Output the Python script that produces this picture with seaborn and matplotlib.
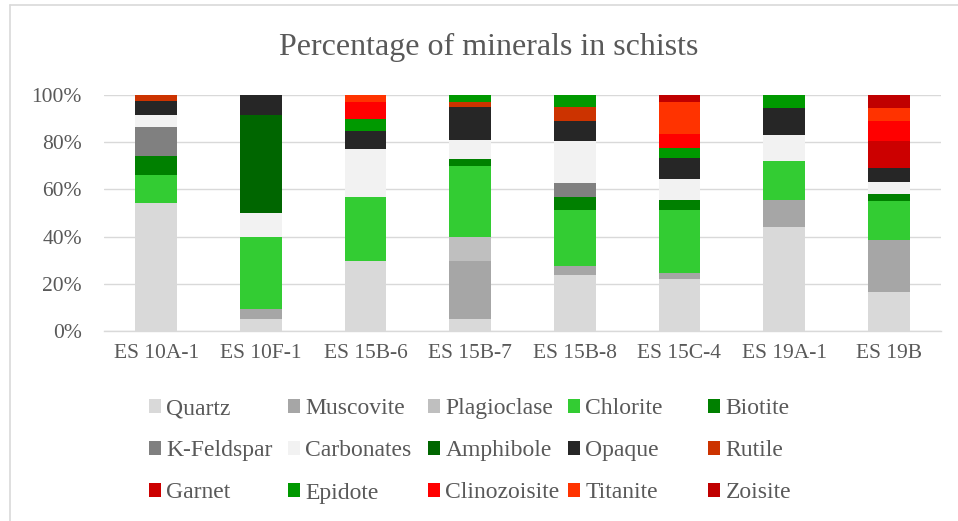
import matplotlib
matplotlib.use("Agg")
import matplotlib.pyplot as plt
from matplotlib.patches import Patch
from matplotlib.lines import Line2D
import numpy as np
import pandas as pd
import seaborn as sns

samples = ["ES 10A-1", "ES 10F-1", "ES 15B-6", "ES 15B-7",
           "ES 15B-8", "ES 15C-4", "ES 19A-1", "ES 19B"]

minerals = ["Quartz", "Muscovite", "Plagioclase", "Chlorite", "Biotite",
            "K-Feldspar", "Carbonates", "Amphibole", "Opaque", "Rutile",
            "Garnet", "Epidote", "Clinozoisite", "Titanite", "Zoisite"]

# percentage of each mineral per sample (same order as samples)
quartz       = [54.1, 5.1, 29.8, 5.1, 23.7, 22.0, 44.2, 16.4]
muscovite    = [0.0, 4.1, 0.0, 24.7, 3.7, 2.5, 11.3, 22.0]
plagioclase  = [0.0, 0.0, 0.0, 10.2, 0.0, 0.0, 0.0, 0.0]
chlorite     = [12.0, 30.8, 27.0, 29.9, 23.7, 26.7, 16.5, 16.7]
biotite      = [8.2, 0.0, 0.0, 3.0, 5.8, 4.2, 0.0, 3.1]
k_feldspar   = [12.1, 0.0, 0.0, 0.0, 5.9, 0.0, 0.0, 0.0]
carbonates   = [5.1, 10.2, 20.2, 7.9, 17.9, 8.9, 11.2, 5.1]
amphibole    = [0.0, 41.3, 0.0, 0.0, 0.0, 0.0, 0.0, 0.0]
opaque       = [5.9, 8.5, 7.8, 14.0, 8.3, 8.8, 11.2, 5.8]
rutile       = [2.6, 0.0, 0.0, 2.1, 5.9, 0.0, 0.0, 0.0]
garnet       = [0.0, 0.0, 0.0, 0.0, 0.0, 0.0, 0.0, 11.2]
epidote      = [0.0, 0.0, 5.1, 3.1, 5.1, 4.5, 5.6, 0.0]
clinozoisite = [0.0, 0.0, 7.0, 0.0, 0.0, 5.9, 0.0, 8.5]
titanite     = [0.0, 0.0, 3.1, 0.0, 0.0, 13.6, 0.0, 5.6]
zoisite      = [0.0, 0.0, 0.0, 0.0, 0.0, 2.9, 0.0, 5.6]

colors = ["#D9D9D9", "#A6A6A6", "#BFBFBF", "#33CC33", "#008000",
          "#808080", "#F2F2F2", "#006600", "#262626", "#CC3300",
          "#CC0000", "#009900", "#FF0000", "#FF3300", "#C00000"]

values = [quartz, muscovite, plagioclase, chlorite, biotite, k_feldspar,
          carbonates, amphibole, opaque, rutile, garnet, epidote,
          clinozoisite, titanite, zoisite]

df = pd.DataFrame(np.array(values).T, columns=minerals, index=samples)
cum = df.cumsum(axis=1)

sns.set_theme(style="white")
plt.rcParams["font.family"] = ["Liberation Serif", "DejaVu Serif"]
text_color = "#595959"

fig = plt.figure(figsize=(9.58, 5.21), dpi=100)
ax = fig.add_axes([104 / 958, 1 - 331 / 521, (941 - 104) / 958, (331 - 95) / 521])

# stacked bars: draw cumulative totals from the top layer down
for m, c in reversed(list(zip(minerals, colors))):
    sns.barplot(x=samples, y=cum[m].values, color=c, width=0.4,
                linewidth=0, saturation=1, ax=ax, zorder=3)

ax.set_ylim(0, 100)
ax.set_xlim(-0.5, 7.5)
ax.set_yticks(np.arange(0, 101, 20))
ax.set_yticklabels([f"{v}%" for v in range(0, 101, 20)])
ax.yaxis.grid(True, color="#D9D9D9", linewidth=1.0, zorder=0)
ax.set_axisbelow(True)
for s in ["top", "right", "left"]:
    ax.spines[s].set_visible(False)
ax.spines["bottom"].set_color("#D9D9D9")
ax.spines["bottom"].set_linewidth(1.0)
ax.tick_params(axis="both", length=0, labelsize=15.5, colors=text_color)
ax.tick_params(axis="y", pad=16)
ax.tick_params(axis="x", pad=9)
ax.set_xlabel("")
ax.set_ylabel("")

fig.text(489 / 958, 1 - 55 / 521, "Percentage of minerals in schists",
         ha="center", va="baseline", fontsize=23, color=text_color)

# chart frame edges
fig.add_artist(Line2D([10 / 958, 10 / 958], [0, 1 - 5 / 521],
                      transform=fig.transFigure, color="#D9D9D9", lw=1.2))
fig.add_artist(Line2D([10 / 958, 1], [1 - 5 / 521, 1 - 5 / 521],
                      transform=fig.transFigure, color="#D9D9D9", lw=1.2))

# legend: five columns of three entries, filled row by row
col_x = [149, 288, 428, 568, 708]
for ci, x in enumerate(col_x):
    idx = [ci, ci + 5, ci + 10]
    handles = [Patch(facecolor=colors[i], edgecolor="none") for i in idx]
    labels = [minerals[i] for i in idx]
    leg = fig.legend(handles, labels, loc="upper left",
                     bbox_to_anchor=(x / 958, 1 - 398 / 521),
                     frameon=False, fontsize=17, handlelength=0.52,
                     handleheight=0.52, handletextpad=0.22,
                     labelspacing=0.9, borderpad=0, borderaxespad=0)
    for t in leg.get_texts():
        t.set_color(text_color)

fig.savefig("out.png", dpi=100)
